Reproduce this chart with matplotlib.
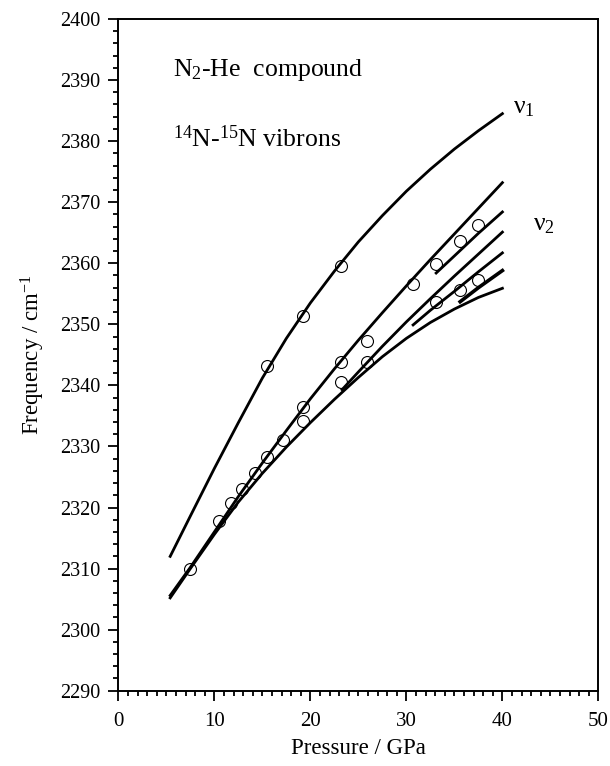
import numpy as np
import matplotlib
matplotlib.use("Agg")
import matplotlib.pyplot as plt
from matplotlib.ticker import MultipleLocator

plt.rcParams['font.family'] = ['Liberation Serif', 'DejaVu Serif']
plt.rcParams['mathtext.fontset'] = 'custom'
plt.rcParams['mathtext.rm'] = 'Liberation Serif'
plt.rcParams['mathtext.it'] = 'Liberation Serif:italic'

# puntos medidos
p_pts = [7.5, 10.5, 11.7, 12.9, 14.2, 15.5, 17.1, 19.2, 19.2, 23.2, 23.2, 25.9, 25.9,
         15.5, 19.2, 23.2, 30.7, 33.1, 35.6, 37.5, 33.1, 35.6, 37.5]
f_pts = [2310.0, 2317.8, 2320.7, 2323.0, 2325.7, 2328.3, 2331.0, 2334.2, 2336.5, 2340.6, 2343.9, 2343.9, 2347.3,
         2343.1, 2351.4, 2359.6, 2356.6, 2359.8, 2363.7, 2366.3, 2353.7, 2355.7, 2357.3]

# curvas
p_long = [5.4, 7.5, 10, 12.5, 15, 17.5, 20, 22.5, 25, 27.5, 30, 32.5, 35, 37.5, 40]
f_nu1 = [2312.0, 2318.6, 2326.4, 2333.9, 2341.2, 2347.7, 2353.5, 2358.7, 2363.5, 2367.8, 2371.8, 2375.4, 2378.7, 2381.7, 2384.5]
f_a = [2305.6, 2310.2, 2316.0, 2321.8, 2327.3, 2332.6, 2337.8, 2342.7, 2347.4, 2351.9, 2356.3, 2360.6, 2364.8, 2369.0, 2373.2]
f_e = [2305.2, 2310.0, 2315.6, 2320.9, 2325.6, 2329.9, 2333.9, 2337.7, 2341.3, 2344.7, 2347.7, 2350.3, 2352.5, 2354.4, 2355.9]

p_c = [23.3, 25, 27.5, 30, 32.5, 35, 37.5, 40]
f_c = [2339.3, 2342.2, 2346.4, 2350.4, 2354.2, 2357.9, 2361.5, 2365.1]
p_b = [33.1, 35, 37.5, 40]
f_b = [2358.4, 2361.2, 2364.9, 2368.4]
p_d = [30.7, 32.5, 35, 37.5, 40]
f_d = [2349.9, 2352.3, 2355.4, 2358.6, 2361.7]
p_f = [35.6, 37.5, 40]
f_f = [2353.7, 2356.0, 2358.8]

fig = plt.figure(figsize=(6.1, 7.66), dpi=100)
ax = fig.add_axes([0.194, 0.0983, 0.787, 0.8769])

lw = 2.0
ax.plot(p_long, f_nu1, color="black", lw=lw)
ax.plot(p_long, f_a, color="black", lw=lw)
ax.plot(p_long, f_e, color="black", lw=lw)
ax.plot(p_c, f_c, color="black", lw=lw)
ax.plot(p_b, f_b, color="black", lw=lw)
ax.plot(p_d, f_d, color="black", lw=lw)
ax.plot(p_f, f_f, color="black", lw=2.6)

ax.plot(p_pts, f_pts, linestyle="none", marker="o", markersize=8.6,
        markerfacecolor="none", markeredgecolor="black", markeredgewidth=0.8)

ax.set_xlim(0, 50)
ax.set_ylim(2290, 2400)
ax.xaxis.set_major_locator(MultipleLocator(10))
ax.xaxis.set_minor_locator(MultipleLocator(1))
ax.yaxis.set_major_locator(MultipleLocator(10))
ax.yaxis.set_minor_locator(MultipleLocator(2))
ax.tick_params(which="both", direction="out", top=False, right=False, width=1.3)
ax.tick_params(which="major", length=7.2)
ax.tick_params(which="minor", length=3.6)
ax.tick_params(axis="x", labelsize=15, pad=8)
ax.tick_params(axis="y", labelsize=14.5, pad=6)
for s in ax.spines.values():
    s.set_linewidth(1.4)

ax.set_xlabel("Pressure / GPa", fontsize=16.5, labelpad=5)
ax.set_ylabel("Frequency / cm$^{-1}$", fontsize=16.5, labelpad=9)

ax.text(5.7, 2390.7, "N$_2$-He  compound", fontsize=18.5)
ax.text(5.7, 2379.1, "$^{14}$N-$^{15}$N vibrons", fontsize=18.5)
ax.text(41.1, 2384.6, "ν$_1$", fontsize=18.5)
ax.text(43.2, 2365.4, "ν$_2$", fontsize=18.5)

plt.savefig("out.png", dpi=100)
